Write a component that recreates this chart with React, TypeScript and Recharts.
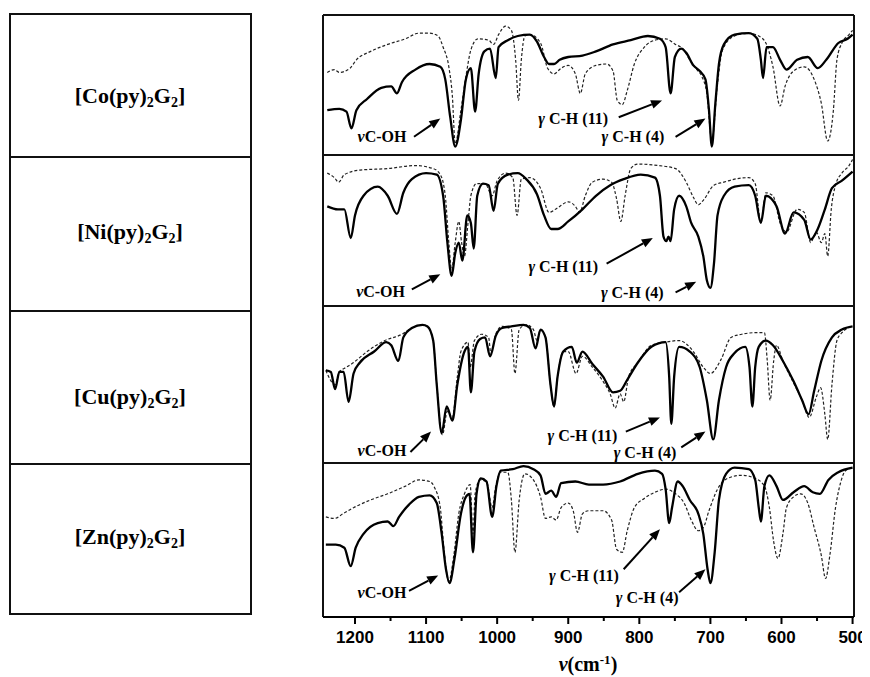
import React from 'react';
import { LineChart, Line, XAxis, YAxis, ReferenceLine, ReferenceDot } from 'recharts';

type Pt = [number, number];

// wavenumber (cm-1), transmittance within panel (0 = panel bottom, 100 = panel top)
const CO_SOLID: Pt[] = [[1239,32],[1222,33],[1212,31],[1205,19],[1198,32],[1183,40],[1163,48],[1149,49],[1141,44],[1134,52],[1115,61],[1095,65],[1080,63],[1073,54],[1066,27],[1059,6],[1051,25],[1044,54],[1037,62],[1031,31],[1026,58],[1018,74],[1010,76],[1002,55],[998,77],[985,82],[971,85],[954,86],[944,81],[934,70],[927,65],[920,65],[912,68],[900,70],[880,71],[861,74],[837,79],[812,82],[788,85],[771,83],[763,77],[756,44],[750,70],[741,76],[734,73],[724,64],[715,60],[707,54],[702,32],[698,6],[693,37],[688,65],[681,79],[666,86],[646,87],[634,83],[629,68],[626,55],[621,77],[612,77],[602,68],[593,61],[578,68],[563,70],[549,62],[537,68],[520,80],[507,83],[500,86]];
const CO_DASHED: Pt[] = [[1239,59],[1229,61],[1222,59],[1207,62],[1198,68],[1178,74],[1154,79],[1129,83],[1110,87],[1095,87],[1083,85],[1076,77],[1068,63],[1063,42],[1059,8],[1051,32],[1044,56],[1037,75],[1027,83],[1012,82],[1005,79],[998,86],[988,92],[980,89],[974,68],[970,39],[966,68],[961,85],[954,86],[939,80],[929,62],[920,58],[910,62],[900,64],[890,58],[883,44],[876,58],[861,64],[846,65],[837,60],[831,39],[824,36],[817,46],[807,65],[793,77],[778,82],[763,83],[749,79],[739,76],[729,68],[719,61],[712,56],[705,44],[698,10],[690,51],[683,75],[666,85],[646,87],[632,85],[622,80],[612,63],[602,35],[595,49],[583,60],[568,63],[554,54],[544,37],[535,10],[527,32],[522,68],[515,80],[505,86],[500,89]];

const NI_SOLID: Pt[] = [[1239,66],[1224,64],[1215,64],[1206,45],[1200,60],[1188,73],[1168,79],[1154,73],[1141,61],[1132,75],[1120,84],[1100,88],[1085,87],[1076,73],[1070,42],[1064,20],[1059,35],[1054,42],[1049,30],[1042,60],[1037,55],[1033,38],[1028,73],[1020,81],[1012,80],[1005,63],[999,81],[985,87],[971,88],[959,84],[944,74],[934,60],[924,51],[915,51],[900,56],[880,64],[861,73],[841,80],[822,84],[798,87],[778,85],[771,73],[766,46],[762,43],[759,46],[756,43],[751,64],[744,73],[734,66],[727,55],[717,46],[710,33],[705,17],[700,12],[695,28],[690,60],[681,73],[666,79],[646,80],[637,73],[629,55],[622,73],[607,66],[595,48],[583,62],[568,57],[559,44],[549,51],[539,64],[529,78],[515,83],[500,89]];
const NI_DASHED: Pt[] = [[1239,88],[1229,85],[1223,82],[1215,87],[1193,90],[1154,91],[1115,93],[1090,91],[1080,87],[1073,73],[1068,42],[1064,24],[1059,42],[1054,56],[1050,42],[1046,33],[1041,55],[1037,73],[1029,81],[1017,81],[1007,73],[1000,83],[988,88],[978,85],[972,60],[966,84],[954,85],[939,78],[927,62],[915,65],[900,69],[890,66],[884,62],[876,73],[866,82],[851,84],[839,82],[832,71],[826,56],[820,73],[812,91],[802,94],[773,93],[749,91],[734,82],[724,72],[717,67],[710,70],[695,80],[681,82],[666,84],[646,85],[637,81],[629,55],[622,75],[612,73],[602,55],[593,49],[578,64],[568,62],[559,42],[551,49],[544,42],[539,48],[535,33],[530,64],[524,80],[515,88],[505,93],[500,97]];

const CU_SOLID: Pt[] = [[1241,59],[1234,58],[1228,47],[1222,58],[1216,58],[1209,39],[1202,57],[1193,64],[1173,71],[1156,77],[1149,75],[1139,65],[1132,80],[1120,86],[1105,88],[1098,87],[1090,78],[1085,50],[1078,19],[1071,36],[1063,27],[1056,50],[1046,71],[1041,74],[1037,45],[1032,71],[1024,79],[1017,80],[1010,68],[1002,81],[993,86],[980,87],[963,88],[954,86],[946,73],[939,85],[932,80],[925,50],[920,36],[915,55],[907,71],[895,74],[888,64],[880,71],[866,63],[851,55],[837,45],[827,46],[817,53],[802,64],[783,74],[763,77],[758,55],[755,25],[751,55],[744,74],[729,71],[715,61],[705,40],[696,15],[688,40],[678,61],[666,70],[651,74],[645,61],[641,36],[637,61],[632,74],[622,78],[612,75],[598,65],[583,52],[571,40],[562,31],[554,46],[544,65],[529,80],[515,85],[500,87]];
const CU_DASHED: Pt[] = [[1241,59],[1228,50],[1222,58],[1212,61],[1202,64],[1183,71],[1158,78],[1134,82],[1120,86],[1105,88],[1098,87],[1090,78],[1085,50],[1077,18],[1070,33],[1063,29],[1056,55],[1051,71],[1041,77],[1038,61],[1032,78],[1022,82],[1012,80],[1009,70],[1002,82],[993,87],[980,85],[975,57],[969,85],[959,88],[949,85],[944,78],[939,85],[932,80],[925,50],[920,36],[915,55],[907,71],[900,71],[889,57],[880,68],[866,61],[851,52],[841,44],[834,35],[827,44],[822,39],[815,55],[802,64],[783,75],[763,77],[744,78],[724,71],[710,61],[700,57],[685,66],[671,80],[656,82],[637,83],[624,83],[620,65],[616,40],[611,65],[607,75],[598,65],[583,51],[571,40],[561,29],[551,42],[545,48],[539,31],[535,15],[529,50],[522,78],[515,83],[500,87]];

const ZN_SOLID: Pt[] = [[1241,47],[1227,47],[1215,45],[1206,33],[1199,45],[1188,54],[1168,61],[1154,62],[1146,59],[1138,65],[1124,73],[1110,78],[1095,79],[1085,74],[1078,54],[1072,31],[1067,22],[1060,38],[1051,67],[1044,78],[1039,80],[1034,42],[1029,80],[1023,90],[1015,88],[1007,65],[1001,85],[995,95],[978,96],[963,98],[949,96],[939,92],[932,80],[924,82],[917,78],[910,87],[890,88],[871,86],[851,86],[827,88],[802,93],[778,95],[768,93],[763,83],[758,61],[754,71],[746,88],[739,85],[729,76],[717,67],[710,54],[704,31],[700,22],[694,42],[688,76],[678,93],[666,97],[646,96],[637,89],[632,71],[629,62],[624,85],[617,92],[607,85],[598,76],[583,81],[568,85],[556,81],[546,80],[534,89],[520,94],[500,97]];
const ZN_DASHED: Pt[] = [[1241,65],[1229,64],[1217,67],[1202,71],[1178,76],[1154,80],[1129,85],[1110,89],[1095,88],[1088,84],[1080,71],[1075,45],[1068,23],[1061,40],[1054,67],[1046,80],[1038,86],[1034,54],[1031,80],[1024,89],[1015,88],[1007,71],[1002,85],[995,94],[985,94],[980,76],[975,42],[969,76],[961,93],[949,89],[939,78],[932,64],[924,65],[917,63],[910,71],[900,74],[893,69],[887,55],[880,67],[871,69],[851,69],[839,63],[832,44],[824,42],[817,56],[807,71],[793,77],[778,81],[763,83],[749,80],[737,74],[727,63],[717,56],[710,58],[702,69],[690,83],[676,90],[656,92],[637,90],[624,85],[617,71],[611,49],[605,38],[598,54],[593,71],[583,78],[573,80],[563,74],[554,58],[544,40],[538,25],[532,40],[524,71],[517,87],[510,95],[500,97]];

const X_TICKS = [1200, 1150, 1100, 1050, 1000, 950, 900, 850, 800, 750, 700, 650, 600, 550, 500];
const COMPOUNDS = ['Co', 'Ni', 'Cu', 'Zn'];

// layout of the stacked panels (y units = px from plot bottom)
const PANEL_LAYOUT = [
  { base: 462, height: 140 },
  { base: 311, height: 151 },
  { base: 154, height: 157 },
  { base: 0, height: 154 },
];
const SERIES = [
  { solid: CO_SOLID, dashed: CO_DASHED },
  { solid: NI_SOLID, dashed: NI_DASHED },
  { solid: CU_SOLID, dashed: CU_DASHED },
  { solid: ZN_SOLID, dashed: ZN_DASHED },
];
// annotation anchors: [wavenumber, panel level]
const ANNOTATIONS = [
  { oh: [1162, 13], ohA: [[1117, 13], [1080, 26]], c11: [893, 26], c11A: [[829, 27], [768, 39]], c4: [809, 13], c4A: [[749, 13], [707, 26]] },
  { oh: [1164, 10], ohA: [[1120, 11], [1080, 21]], c11: [907, 26], c11A: [[846, 28], [781, 45]], c4: [810, 9], c4A: [[749, 9], [720, 16]] },
  { oh: [1162, 8], ohA: [[1122, 7], [1093, 20]], c11: [880, 17.5], c11A: [[819, 20], [771, 29]], c4: [792, 7], c4A: [[741, 10], [707, 20]] },
  { oh: [1162, 16], ohA: [[1124, 17], [1083, 27]], c11: [878, 27], c11A: [[822, 31], [771, 57]], c4: [789, 13], c4A: [[744, 16], [707, 31]] },
];

const toY = (i: number, v: number) => PANEL_LAYOUT[i].base + (v / 100) * PANEL_LAYOUT[i].height;
const toData = (i: number, pts: Pt[]) => pts.map(([w, v]) => ({ w, y: toY(i, v) }));

const SERIF = '"Liberation Serif", "Times New Roman", serif';
const SANS = '"Liberation Sans", Arial, sans-serif';

const Tick = (props: any) => {
  const { x, y, payload } = props;
  const major = payload.value % 100 === 0;
  return (
    <g>
      <line x1={x} x2={x} y1={y} y2={y + (major ? 7 : 4)} stroke="#000" strokeWidth={2} />
      {major && (
        <text x={x} y={y + 26} textAnchor="middle" fontFamily={SANS} fontWeight="bold" fontSize={17} fill="#000">
          {payload.value}
        </text>
      )}
    </g>
  );
};

const Arrow = (props: any) => {
  const { x1, y1, x2, y2 } = props;
  const ang = Math.atan2(y2 - y1, x2 - x1);
  const L = 11, W = 4.5;
  const bx = x2 - L * Math.cos(ang), by = y2 - L * Math.sin(ang);
  const px = -Math.sin(ang) * W, py = Math.cos(ang) * W;
  return (
    <g>
      <line x1={x1} y1={y1} x2={bx} y2={by} stroke="#000" strokeWidth={2} />
      <polygon points={`${x2},${y2} ${bx + px},${by + py} ${bx - px},${by - py}`} fill="#000" />
    </g>
  );
};

const makeLabel = (greek: string, rest: string) => (props: any) => (
  <text x={props.cx} y={props.cy} dy="0.35em" textAnchor="middle" fontFamily={SERIF} fontWeight="bold" fontSize={16} fill="#000">
    <tspan fontStyle="italic">{greek}</tspan>
    <tspan>{rest}</tspan>
  </text>
);
const OH_LABEL = makeLabel('ν', 'C-OH');
const C11_LABEL = makeLabel('γ', ' C-H (11)');
const C4_LABEL = makeLabel('γ', ' C-H (4)');

const EDGES = [0, 154, 311, 462, 602];

export default function App() {
  const rowLines = [5, 148, 302, 455, 605];
  const labelCenters = [88, 224, 389, 529];
  return (
    <div style={{ position: 'relative', width: 862, height: 669, background: '#fff' }}>
      {/* left table */}
      {rowLines.map((t, i) => (
        <div key={'h' + i} style={{ position: 'absolute', left: 1, top: t, width: 243, height: 2, background: '#111' }} />
      ))}
      <div style={{ position: 'absolute', left: 1, top: 5, width: 2, height: 602, background: '#111' }} />
      <div style={{ position: 'absolute', left: 242, top: 5, width: 2, height: 602, background: '#111' }} />
      {COMPOUNDS.map((m, i) => (
        <div
          key={m}
          style={{
            position: 'absolute', left: 2, width: 240, top: labelCenters[i] - 14, height: 28, lineHeight: '28px',
            textAlign: 'center', fontFamily: SERIF, fontWeight: 'bold', fontSize: 22, color: '#000',
          }}
        >
          [{m}(py)<sub style={{ fontSize: 14, verticalAlign: -4 }}>2</sub>G<sub style={{ fontSize: 14, verticalAlign: -4 }}>2</sub>]
        </div>
      ))}

      {/* spectra */}
      <div style={{ position: 'absolute', left: 270, top: 0 }}>
        <LineChart width={592} height={669} margin={{ top: 7, right: 16, bottom: 30, left: 45 }}>
          <XAxis
            type="number"
            dataKey="w"
            domain={[498, 1245]}
            reversed
            allowDataOverflow
            ticks={X_TICKS}
            interval={0}
            tickLine={false}
            tickSize={0}
            tickMargin={0}
            tick={<Tick />}
            axisLine={{ stroke: '#000', strokeWidth: 2 }}
            height={30}
          />
          <YAxis type="number" domain={[0, 602]} hide allowDataOverflow />
          {EDGES.map((e) => (
            <ReferenceLine key={'e' + e} y={e} stroke="#111" strokeWidth={2} />
          ))}
          <ReferenceLine x={1245} stroke="#111" strokeWidth={2} />
          <ReferenceLine x={498} stroke="#111" strokeWidth={2} />
          {SERIES.map((s, i) => (
            <Line
              key={'d' + i}
              data={toData(i, s.dashed)}
              dataKey="y"
              type="monotone"
              stroke="#222"
              strokeWidth={1.2}
              strokeDasharray="3 2"
              dot={false}
              isAnimationActive={false}
            />
          ))}
          {SERIES.map((s, i) => (
            <Line
              key={'s' + i}
              data={toData(i, s.solid)}
              dataKey="y"
              type="monotone"
              stroke="#000"
              strokeWidth={2.3}
              dot={false}
              isAnimationActive={false}
            />
          ))}
          {ANNOTATIONS.map((a, i) => [
            <ReferenceDot key={'ol' + i} x={a.oh[0]} y={toY(i, a.oh[1])} r={1} shape={OH_LABEL} />,
            <ReferenceDot key={'c11l' + i} x={a.c11[0]} y={toY(i, a.c11[1])} r={1} shape={C11_LABEL} />,
            <ReferenceDot key={'c4l' + i} x={a.c4[0]} y={toY(i, a.c4[1])} r={1} shape={C4_LABEL} />,
            ...[a.ohA, a.c11A, a.c4A].map((seg, k) => (
              <ReferenceLine
                key={'ar' + i + '-' + k}
                segment={[{ x: seg[0][0], y: toY(i, seg[0][1]) }, { x: seg[1][0], y: toY(i, seg[1][1]) }]}
                shape={Arrow}
              />
            )),
          ])}
        </LineChart>
      </div>
      <div
        style={{
          position: 'absolute', left: 520, width: 120, top: 640, height: 24, lineHeight: '24px', textAlign: 'center',
          fontFamily: SERIF, fontWeight: 'bold', fontSize: 20, color: '#000',
        }}
      >
        <i>ν</i>(cm<sup style={{ fontSize: 13, verticalAlign: 7 }}>-1</sup>)
      </div>
    </div>
  );
}
